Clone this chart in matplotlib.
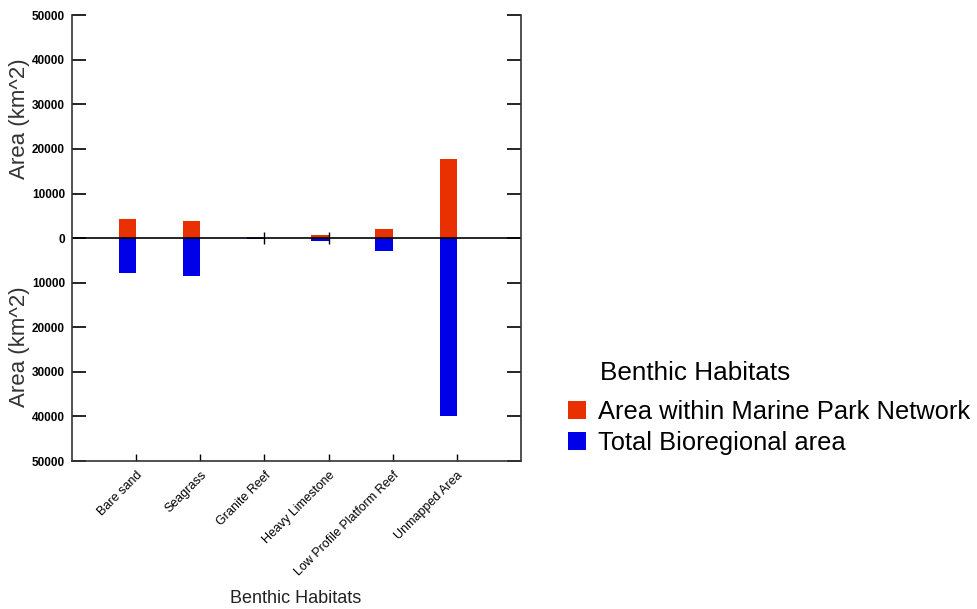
import matplotlib
matplotlib.use("Agg")
import matplotlib.pyplot as plt
from matplotlib.ticker import FuncFormatter, MultipleLocator

plt.rcParams["font.family"] = ["Liberation Sans", "DejaVu Sans"]

habitats = ["Bare sand", "Seagrass", "Granite Reef", "Heavy Limestone",
            "Low Profile Platform Reef", "Unmapped Area"]
park_area = [4400, 3800, 300, 700, 2000, 17700]    # km^2 inside marine parks
total_area = [7900, 8500, 100, 700, 3000, 40000]   # km^2 whole bioregion

red = "#e83000"
blue = "#0000e8"

fig = plt.figure(figsize=(9.77, 6.09), dpi=100)
ax = fig.add_axes([0.0737, 0.243, 0.4596, 0.732])

pos = list(range(1, len(habitats) + 1))
w = 0.27
ax.bar(pos, park_area, width=-w, align="edge", color=red, edgecolor="none",
       label="Area within Marine Park Network")
ax.bar(pos, [-v for v in total_area], width=-w, align="edge", color=blue,
       edgecolor="none", label="Total Bioregional area")

# small marks on the zero line for the two tiny categories
ax.vlines([3, 4], -1300, 1300, color="black", lw=1)
ax.axhline(0, color="black", lw=1.2)

ax.set_xlim(0, 7)
ax.set_ylim(-50000, 50000)
ax.yaxis.set_major_locator(MultipleLocator(10000))
ax.yaxis.set_major_formatter(FuncFormatter(lambda v, p: "%d" % abs(v)))
ax.set_xticks(pos)
ax.set_xticklabels(habitats, rotation=45, ha="right", rotation_mode="anchor",
                   fontsize=9)
ax.tick_params(axis="y", direction="in", length=10, width=1.2, labelsize=8.5,
               right=True, pad=5)
ax.tick_params(axis="x", direction="in", length=5, width=1, pad=6)
for t in ax.get_yticklabels():
    t.set_fontweight("bold")

ax.spines["top"].set_visible(False)
for s in ["left", "right", "bottom"]:
    ax.spines[s].set_color("#333333")
    ax.spines[s].set_linewidth(1.2)

fig.text(0.02, 0.805, "Area (km^2)", rotation=90, ha="center", va="center",
         fontsize=16, color="#333333")
fig.text(0.02, 0.43, "Area (km^2)", rotation=90, ha="center", va="center",
         fontsize=16, color="#333333")
fig.text(0.303, 0.018, "Benthic Habitats", ha="center", va="center",
         fontsize=13, color="#222222")

fig.text(0.614, 0.387, "Benthic Habitats", ha="left", va="center", fontsize=18.8)
fig.legend(loc="upper left", bbox_to_anchor=(0.581, 0.343), frameon=False,
           fontsize=18.4, handlelength=0.7, handleheight=0.7, handletextpad=0.5,
           borderaxespad=0, borderpad=0, labelspacing=0.25)

fig.savefig("out.png", dpi=100)
